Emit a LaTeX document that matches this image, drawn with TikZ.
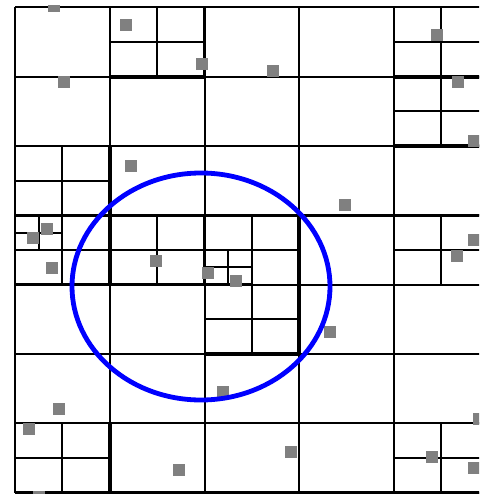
\documentclass[tikz,border=0pt]{standalone}
\usepackage{xcolor}
\usepackage{tikz}
\usetikzlibrary{calc}

\begin{document}
\begin{tikzpicture}[x=1pt, y=-1pt,
  gridline/.style={draw=black, line width=2pt},
  boldline/.style={draw=black, line width=3.6pt},
  sample/.style={fill=black!50, draw=none},
  ring/.style={draw=blue, line width=4.8pt}
]
\useasboundingbox (0,0) rectangle (479,494);
\clip (0,0) rectangle (479,494);
% coarse grid
\foreach \x in {15,109.75,204.5,299.25,394} {
  \draw[gridline] (\x,7.5) -- (\x,492.5);
}
\foreach \r in {0,...,7} {
  \draw[gridline] (15,7.5+\r*69.286) -- (489,7.5+\r*69.286);
}
% split cells
\foreach \c/\r in {1/0,4/0,4/1,0/2,0/3,1/3,2/3,2/4,4/3,0/6,4/6} {
  \pgfmathsetmacro\xa{15+\c*94.75}
  \pgfmathsetmacro\ya{7.5+\r*69.286}
  \draw[gridline] (\xa+47.375,\ya) -- ++(0,69.286);
  \draw[gridline] (\xa,\ya+34.643) -- ++(94.75,0);
}
% split quarters
\foreach \xa/\ya in {15/215.36,204.5/250} {
  \draw[gridline] (\xa+23.69,\ya) -- ++(0,34.643);
  \draw[gridline] (\xa,\ya+17.32) -- ++(47.375,0);
}
% heavier borders
\draw[boldline] (15,492.5) -- (489,492.5);
\draw[boldline] (109.75,76.8) -- (204.5,76.8) -- (204.5,7.5);
\draw[boldline] (394,76.8) -- (489,76.8);
\draw[boldline] (394,146.1) -- (489,146.1);
\draw[boldline] (15,215.36) -- (489,215.36);
\draw[boldline] (109.75,146.1) -- (109.75,284.64);
\draw[boldline] (15,284.64) -- (251.9,284.64);
\draw[boldline] (204.5,215.36) -- (204.5,284.64);
\draw[boldline] (299.25,215.36) -- (299.25,353.93) -- (204.5,353.93);
\draw[boldline] (109.75,423.2) -- (109.75,492.5);
% samples
\begin{scope}
\clip (0,6) rectangle (479,494);
\foreach \px/\py in {54/6,125.5/25.5,202/64.5,273/71,437/35.5,64/82,458/82,474/141,
  130.5/166,345/204.5,46.5/229,33/238,51.5/268,156/261,207.5/272.5,235.5/281,
  474/240,457/256,330/332,59/409,223/392,479/419,28.5/429,38.5/497,179/470,
  291/452,432/457,473.5/467.5} {
  \fill[sample] (\px-6,\py-6) rectangle ++(12,12);
}
\end{scope}
% query range
\draw[ring] (201,286.5) ellipse [x radius=129pt, y radius=113.5pt];
\end{tikzpicture}
\end{document}
